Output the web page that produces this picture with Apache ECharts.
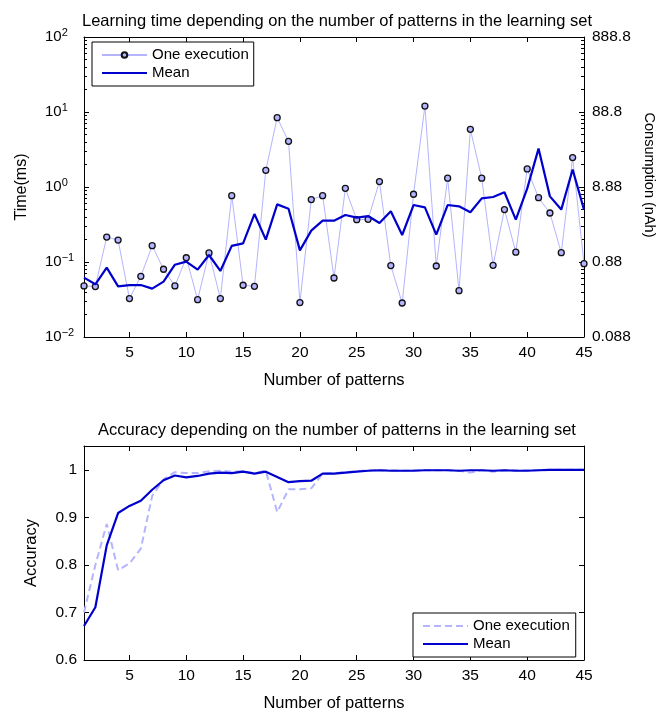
<!DOCTYPE html>
<html>
<head>
<meta charset="utf-8">
<script src="https://cdn.jsdelivr.net/npm/echarts@6/dist/echarts.min.js"></script>
<style>html,body{margin:0;padding:0;background:#fff;}#c{width:667px;height:713px;}</style>
</head>
<body>
<div id="c"></div>
<script>
// ---- data ----
var patterns = [1,2,3,4,5,6,7,8,9,10,11,12,13,14,15,16,17,18,19,20,21,22,23,24,25,26,27,28,29,30,31,32,33,34,35,36,37,38,39,40,41,42,43,44,45];
var timeOne = [0.048,0.047,0.215,0.196,0.0325,0.0645,0.165,0.08,0.048,0.114,0.0315,0.132,0.0325,0.767,0.049,0.0474,1.67,8.4,4.07,0.0288,0.679,0.767,0.0612,0.96,0.367,0.371,1.18,0.0895,0.0284,0.80,12.0,0.0885,1.31,0.0415,5.87,1.31,0.0904,0.50,0.135,1.74,0.72,0.45,0.133,2.47,0.095];
var timeMean = [0.0619,0.0504,0.084,0.0474,0.0493,0.0493,0.0442,0.0547,0.092,0.101,0.079,0.124,0.076,0.164,0.177,0.436,0.199,0.587,0.514,0.143,0.262,0.356,0.356,0.423,0.39,0.41,0.331,0.474,0.229,0.575,0.536,0.232,0.575,0.553,0.46,0.706,0.736,0.85,0.367,0.95,3.25,0.75,0.50,1.71,0.50];
var accOne = [0.70,0.80,0.886,0.789,0.803,0.834,0.945,0.98,0.995,0.993,0.993,0.997,0.998,0.996,0.997,0.993,0.998,0.911,0.959,0.959,0.961,0.992,0.993,0.995,0.997,0.999,0.999,0.999,0.998,0.999,0.999,0.999,0.999,0.998,0.994,0.999,0.996,0.999,0.999,0.999,0.999,1.0,1.0,1.0,1.0];
var accMean = [0.6715,0.711,0.841,0.909,0.924,0.935,0.958,0.978,0.988,0.984,0.987,0.992,0.994,0.993,0.996,0.992,0.996,0.985,0.974,0.976,0.977,0.992,0.992,0.994,0.996,0.998,0.999,0.998,0.998,0.998,0.999,0.999,0.999,0.998,0.999,0.999,0.998,0.999,0.998,0.998,0.999,1.0,1.0,1.0,1.0];
var xTicks = [5,10,15,20,25,30,35,40,45];
var logMajor = [0.01,0.1,1,10,100];
var rightLabels = ['0.088','0.88','8.88','88.8','888.8'];
var accTicks = [0.6,0.7,0.8,0.9,1];
var logMinor = [];
for (var d = 0; d < 4; d++) { for (var m = 2; m <= 9; m++) { logMinor.push(+(m * Math.pow(10, d - 2)).toPrecision(3)); } }

var FONT = "'Liberation Sans', Arial, sans-serif";
var BLUE = '#0000cc';
var LAV = '#b4b4ff';
function pairs(ys){ return patterns.map(function(p,i){ return [p, ys[i]]; }); }

var axLine = {show:true, lineStyle:{color:'#000', width:1}};
var lbl = {color:'#000', fontSize:15.5, fontFamily:FONT};
var nameStyle = {color:'#000', fontSize:16.5, fontFamily:FONT};

function xAx(grid, pos, withLabels, name){
  return {
    type:'value', gridIndex:grid, position:pos, min:1, max:45,
    axisLine:axLine, splitLine:{show:false},
    axisTick:{show:true, inside:true, length:5, customValues:xTicks, lineStyle:{color:'#000'}},
    axisLabel: withLabels ? Object.assign({margin:8, customValues:xTicks}, lbl) : {show:false},
    name: name || '', nameLocation:'middle', nameGap:35,
    nameTextStyle:nameStyle
  };
}
var hideSym = {opacity:0};
var legendText = {fontSize:15, color:'#000', fontFamily:FONT, lineHeight:18};

var option = {
  animation:false,
  backgroundColor:'#fff',
  title:[
    {text:'Learning time depending on the number of patterns in the learning set', left:332, top:8, textAlign:'center',
     textStyle:{fontSize:16.5, fontWeight:'normal', color:'#000', fontFamily:FONT}},
    {text:'Accuracy depending on the number of patterns in the learning set', left:332, top:417, textAlign:'center',
     textStyle:{fontSize:16.5, fontWeight:'normal', color:'#000', fontFamily:FONT}}
  ],
  grid:[
    {left:84, right:83, top:37, height:300},
    {left:84, right:83, top:446, height:217}
  ],
  legend:[
    {data:[{name:'One execution'}, {name:'Mean', itemStyle:hideSym}], orient:'vertical', left:92, top:42,
     itemWidth:45, itemHeight:7, itemGap:0,
     padding:[4,5,4,9], borderColor:'#000', borderWidth:1, backgroundColor:'#fff',
     textStyle:legendText},
    {data:[{name:'One execution ', itemStyle:hideSym}, {name:'Mean ', itemStyle:hideSym}], orient:'vertical', left:413, top:613,
     itemWidth:45, itemHeight:7, itemGap:0,
     padding:[4,6,4,9], borderColor:'#000', borderWidth:1, backgroundColor:'#fff',
     formatter:function(n){return n.trim();},
     textStyle:legendText}
  ],
  xAxis:[
    xAx(0,'bottom',true,'Number of patterns'),
    xAx(0,'top',false),
    xAx(1,'bottom',true,'Number of patterns'),
    xAx(1,'top',false)
  ],
  yAxis:[
    {type:'log', logBase:10, gridIndex:0, position:'left', min:0.01, max:100,
     axisLine:axLine, splitLine:{show:false}, minorTick:{show:false},
     axisTick:{show:true, inside:true, length:5, customValues:logMajor, lineStyle:{color:'#000'}},
     axisLabel:{customValues:logMajor, align:'left', margin:39, color:'#000', fontFamily:FONT,
       formatter:function(v){ var e = Math.round(Math.log10(v)); return '{b|10}{s|' + (e<0?'\u2212'+(-e):e) + '}'; },
       rich:{b:{fontSize:15, fontFamily:FONT, color:'#000'}, s:{fontSize:11, fontFamily:FONT, color:'#000', verticalAlign:'top', padding:[0,0,9,0]}}},
     name:'Time(ms)', nameLocation:'middle', nameGap:54, nameTextStyle:{color:'#000', fontSize:16, fontFamily:FONT}},
    {type:'log', logBase:10, gridIndex:0, position:'right', min:0.01, max:100,
     axisLine:axLine, splitLine:{show:false},
     axisTick:{show:true, inside:true, length:5, customValues:logMajor, lineStyle:{color:'#000'}},
     axisLabel:Object.assign({customValues:logMajor, margin:8,
       formatter:function(v){ return rightLabels[Math.round(Math.log10(v)) + 2]; }}, lbl),
     name:'Consumption (nAh)', nameLocation:'middle', nameRotate:-90, nameGap:51,
     nameTextStyle:{color:'#000', fontSize:14.5, fontFamily:FONT, padding:[0,24,0,0]}},
    {type:'log', logBase:10, gridIndex:0, position:'left', min:0.01, max:100,
     axisLine:{show:false}, splitLine:{show:false}, axisLabel:{show:false},
     axisTick:{show:true, inside:true, length:3, customValues:logMinor, lineStyle:{color:'#000'}}},
    {type:'log', logBase:10, gridIndex:0, position:'right', min:0.01, max:100,
     axisLine:{show:false}, splitLine:{show:false}, axisLabel:{show:false},
     axisTick:{show:true, inside:true, length:3, customValues:logMinor, lineStyle:{color:'#000'}}},
    {type:'value', gridIndex:1, position:'left', min:0.6, max:1.05,
     axisLine:axLine, splitLine:{show:false},
     axisTick:{show:true, inside:true, length:5, customValues:accTicks, lineStyle:{color:'#000'}},
     axisLabel:Object.assign({customValues:accTicks, margin:7}, lbl),
     name:'Accuracy', nameLocation:'middle', nameGap:44, nameTextStyle:nameStyle},
    {type:'value', gridIndex:1, position:'right', min:0.6, max:1.05,
     axisLine:axLine, splitLine:{show:false}, axisLabel:{show:false},
     axisTick:{show:true, inside:true, length:5, customValues:accTicks, lineStyle:{color:'#000'}}}
  ],
  series:[
    {name:'One execution', type:'line', xAxisIndex:0, yAxisIndex:0, data:pairs(timeOne),
     symbol:'circle', symbolSize:6, showAllSymbol:true,
     lineStyle:{color:LAV, width:1}, itemStyle:{color:LAV, borderColor:'#111', borderWidth:1.3}, z:2},
    {name:'Mean', type:'line', xAxisIndex:0, yAxisIndex:0, data:pairs(timeMean),
     symbol:'none', lineStyle:{color:BLUE, width:2.2}, itemStyle:{color:BLUE}, z:3},
    {name:'One execution ', type:'line', xAxisIndex:2, yAxisIndex:4, data:pairs(accOne),
     symbol:'none', lineStyle:{color:LAV, width:2, type:[7,4]}, itemStyle:{color:LAV}, z:2},
    {name:'Mean ', type:'line', xAxisIndex:2, yAxisIndex:4, data:pairs(accMean),
     symbol:'none', lineStyle:{color:BLUE, width:2.2}, itemStyle:{color:BLUE}, z:3}
  ]
};
var chart = echarts.init(document.getElementById('c'), null, {renderer:'canvas'});
chart.setOption(option);
</script>
</body>
</html>
